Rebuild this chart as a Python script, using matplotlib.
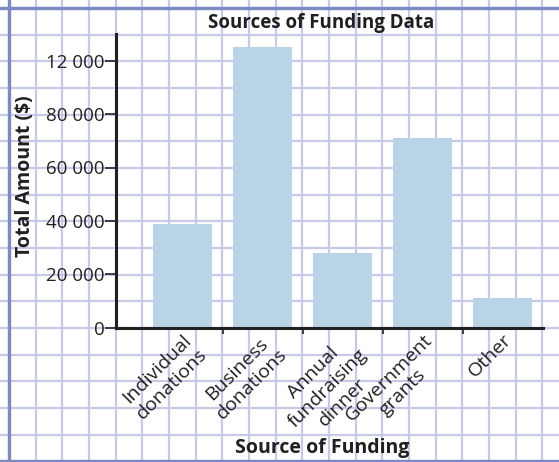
import numpy as np
import matplotlib.pyplot as plt

plt.rcParams['font.family'] = ['Open Sans', 'DejaVu Sans']

sources = ['Individual\ndonations', 'Business\ndonations', 'Annual\nfundraising\ndinner',
           'Government\ngrants', 'Other']
amounts = [39000, 105000, 28000, 71000, 11000]
ytick_vals = [0, 20000, 40000, 60000, 80000, 100000]
ytick_labels = ['0', '20 000', '40 000', '60 000', '80 000', '12 000']

W, H = 559, 462
fig = plt.figure(figsize=(W / 100, H / 100), dpi=100)

# graph paper background, in pixel units
bg = fig.add_axes([0, 0, 1, 1])
bg.set_xlim(0, W)
bg.set_ylim(H, 0)
bg.axis('off')
step = 80 / 3
for gx in np.arange(9, W, step):
    bg.axvline(gx, color='#c6cae8', lw=1.6, zorder=0)
for gy in np.arange(8, H, step):
    bg.axhline(gy, color='#c6cae8', lw=1.6, zorder=0)
bg.axvline(9, color='#7d89c2', lw=2.4, zorder=1)
bg.axhline(8, color='#7d89c2', lw=2.4, zorder=1)
bg.axhline(461, color='#7d89c2', lw=2.4, zorder=1)

# main chart
ax = fig.add_axes([116 / W, 1 - 327.7 / H, (543 - 116) / W, (327.7 - 34) / H])
ax.patch.set_alpha(0)
x = np.arange(len(sources))
ax.bar(x, amounts, width=0.733, color='#b8d4e6', zorder=2)
ax.set_xlim(-0.834, 4.504)
ax.set_ylim(0, 110000)

for s in ['top', 'right']:
    ax.spines[s].set_visible(False)
for s in ['left', 'bottom']:
    ax.spines[s].set_linewidth(2.2)
    ax.spines[s].set_color('#231f20')

ax.set_yticks(ytick_vals)
ax.set_yticklabels(ytick_labels, fontsize=13.5, color='#231f20')
ax.tick_params(axis='y', length=8, width=1.2, pad=0.3, color='#231f20')

ax.set_xticks(x)
ax.set_xticklabels(sources, fontsize=14, color='#231f20', rotation=45, linespacing=1.2,
                   ha='right', va='top', rotation_mode='anchor', multialignment='center')
ax.tick_params(axis='x', which='major', length=0, pad=2)
ax.set_xticks(x[:-1] + 0.5, minor=True)
ax.tick_params(axis='x', which='minor', length=4, width=1.2, color='#231f20')

fig.text(321 / W, 1 - 23 / H, 'Sources of Funding Data', fontsize=13.5, fontweight='bold',
         ha='center', va='center', color='#231f20')
fig.text(25 / W, 1 - 176 / H, 'Total Amount ($)', fontsize=14, fontweight='bold',
         rotation=90, ha='center', va='center', color='#231f20')
fig.text(322 / W, 1 - 448 / H, 'Source of Funding', fontsize=14, fontweight='bold',
         ha='center', va='center', color='#231f20')

fig.savefig('out.png', dpi=100)
